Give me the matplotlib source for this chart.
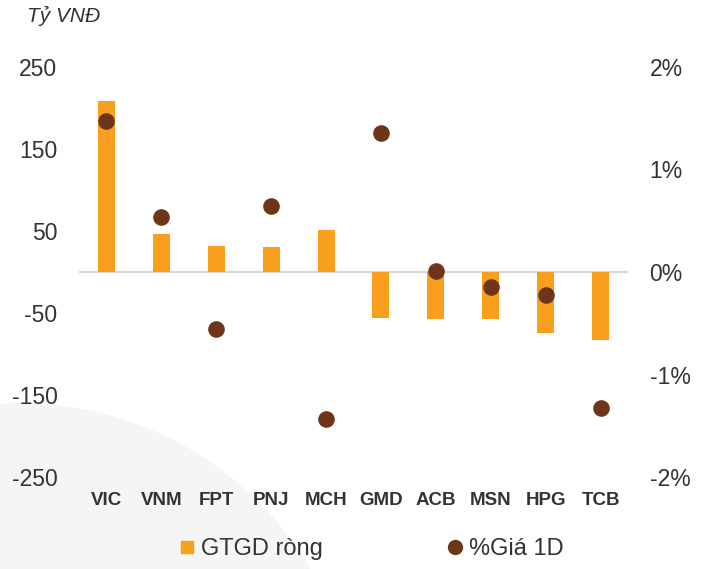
import matplotlib
matplotlib.use("Agg")
import matplotlib.pyplot as plt
from matplotlib.patches import Circle
from matplotlib.lines import Line2D

plt.rcParams['font.family'] = ['Liberation Sans', 'DejaVu Sans']

# data
tickers = ['VIC', 'VNM', 'FPT', 'PNJ', 'MCH', 'GMD', 'ACB', 'MSN', 'HPG', 'TCB']
net_value = [208, 46, 32, 30, 51, -56, -57, -57, -74, -83]          # Tỷ VNĐ
price_chg = [1.47, 0.54, -0.56, 0.64, -1.43, 1.36, 0.01, -0.15, -0.22, -1.33]  # %

left_ticks = [-250, -150, -50, 50, 150, 250]
right_ticks = [-2, -1, 0, 1, 2]

bar_color = '#F8A01E'
dot_color = '#6E3519'
text_color = '#333333'

fig = plt.figure(figsize=(7.08, 5.69), dpi=100)

# light grey circle in the background, bottom left
bg = Circle((0.20, -1.71), 3.37, transform=fig.dpi_scale_trans,
            facecolor='#F5F5F5', edgecolor='none', zorder=0)
fig.add_artist(bg)

ax = fig.add_axes([79 / 708, 1 - 477 / 569, (628 - 79) / 708, (477 - 67) / 569])
ax.set_facecolor('none')
x = range(len(tickers))
ax.bar(x, net_value, width=0.31, color=bar_color, zorder=2)
ax.axhline(0, color='#D9D9D9', lw=1.6, zorder=1)
ax.set_xlim(-0.5, len(tickers) - 0.5)
ax.set_ylim(-250, 250)
ax.set_yticks(left_ticks)
ax.set_yticklabels([str(t) for t in left_ticks])
ax.set_xticks(list(x))
ax.set_xticklabels(tickers, fontweight='bold', fontsize=13.5)
ax.tick_params(axis='x', length=0, pad=11, colors=text_color)
ax.tick_params(axis='y', length=0, pad=15.5, labelsize=16.5, colors=text_color)
for s in ax.spines.values():
    s.set_visible(False)

ax2 = ax.twinx()
ax2.set_facecolor('none')
ax2.scatter(x, price_chg, s=120, color=dot_color, zorder=3)
ax2.set_ylim(-2, 2)
ax2.set_yticks(right_ticks)
ax2.set_yticklabels([f'{t}%' for t in right_ticks])
ax2.tick_params(axis='y', length=0, pad=15.5, labelsize=16.5, colors=text_color)
for s in ax2.spines.values():
    s.set_visible(False)

fig.text(27 / 708, 1 - 16 / 569, 'Tỷ VNĐ', fontsize=15, style='italic',
         color=text_color, va='center', ha='left')

handles = [
    Line2D([], [], marker='s', linestyle='none', markersize=9, color=bar_color),
    Line2D([], [], marker='o', linestyle='none', markersize=10, color=dot_color),
]
fig.legend(handles, ['GTGD ròng', '%Giá 1D'], loc='center',
           bbox_to_anchor=(372 / 708, 1 - 549 / 569), ncol=2, frameon=False,
           fontsize=17, handlelength=0.6, handletextpad=0.3, columnspacing=5.3,
           labelcolor=text_color)

fig.savefig('out.png', dpi=100)
